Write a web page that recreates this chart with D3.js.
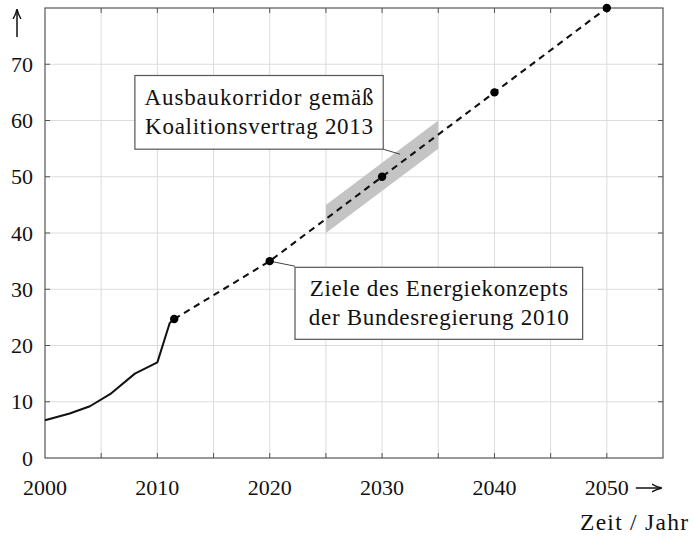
<!DOCTYPE html>
<html>
<head>
<meta charset="utf-8">
<script src="https://cdn.jsdelivr.net/npm/d3@7"></script>
<style>
  body { margin: 0; background: #fff; }
  svg text { font-family: "Liberation Serif", "DejaVu Serif", serif; fill: #111; }
</style>
</head>
<body>
<div id="chart"></div>
<script>
"use strict";

// historical share (solid line)
var histYears = [2000, 2002.2, 2004, 2005.9, 2008, 2010, 2011.1, 2011.5];
var histValues = [6.7, 7.9, 9.2, 11.5, 15.0, 17.0, 24.0, 24.7];

// targets (dashed line with dots)
var targetYears = [2011.5, 2020, 2030, 2040, 2050];
var targetValues = [24.7, 35, 50, 65, 80];

// corridor 2025-2035
var corridorYears = [2025, 2035];
var corridorLow = [40, 55];
var corridorHigh = [45, 60];

var xTickLabels = [2000, 2010, 2020, 2030, 2040, 2050];
var yTickLabels = [0, 10, 20, 30, 40, 50, 60, 70];

var W = 693, H = 536;
var margin = {left: 45, top: 8, right: 30, bottom: 78};
var innerW = W - margin.left - margin.right;
var innerH = H - margin.top - margin.bottom;

var x = d3.scaleLinear().domain([2000, 2055]).range([margin.left, margin.left + innerW]);
var y = d3.scaleLinear().domain([0, 80]).range([margin.top + innerH, margin.top]);

var svg = d3.select('#chart').append('svg')
    .attr('width', W)
    .attr('height', H);

var defs = svg.append('defs');
defs.append('marker')
    .attr('id', 'arrow')
    .attr('viewBox', '0 0 10 10')
    .attr('refX', 9).attr('refY', 5)
    .attr('markerWidth', 10).attr('markerHeight', 10)
    .attr('markerUnits', 'userSpaceOnUse')
    .attr('orient', 'auto')
    .append('path')
    .attr('d', 'M0,1 Q5,4 10,5 Q5,6 0,9')
    .attr('fill', 'none')
    .attr('stroke', '#111')
    .attr('stroke-width', 1.4);

//grid
var gridG = svg.append('g').attr('class', 'grid');
gridG.selectAll('line.vx')
    .data(d3.range(2005, 2055, 5))
    .enter().append('line')
    .attr('x1', function(d){ return x(d); })
    .attr('x2', function(d){ return x(d); })
    .attr('y1', y(0)).attr('y2', y(80))
    .attr('stroke', '#dcdcdc').attr('stroke-width', 1);
gridG.selectAll('line.hy')
    .data(d3.range(10, 80, 10))
    .enter().append('line')
    .attr('y1', function(d){ return y(d); })
    .attr('y2', function(d){ return y(d); })
    .attr('x1', x(2000)).attr('x2', x(2055))
    .attr('stroke', '#dcdcdc').attr('stroke-width', 1);

//ticks, pointing inward on all four sides
var tickG = svg.append('g').attr('stroke', '#555').attr('stroke-width', 1);
var tl = 5;
d3.range(2005, 2055, 5).forEach(function(d){
    tickG.append('line').attr('x1', x(d)).attr('x2', x(d)).attr('y1', y(0)).attr('y2', y(0) - tl);
    tickG.append('line').attr('x1', x(d)).attr('x2', x(d)).attr('y1', y(80)).attr('y2', y(80) + tl);
});
d3.range(10, 80, 10).forEach(function(d){
    tickG.append('line').attr('y1', y(d)).attr('y2', y(d)).attr('x1', x(2000)).attr('x2', x(2000) + tl);
    tickG.append('line').attr('y1', y(d)).attr('y2', y(d)).attr('x1', x(2055)).attr('x2', x(2055) - tl);
});

//frame
svg.append('rect')
    .attr('x', x(2000)).attr('y', y(80))
    .attr('width', x(2055) - x(2000)).attr('height', y(0) - y(80))
    .attr('fill', 'none').attr('stroke', '#555').attr('stroke-width', 1.2);

//corridor band
var band = corridorYears.map(function(d, i){ return {x: d, lo: corridorLow[i], hi: corridorHigh[i]}; });
svg.append('path')
    .datum(band)
    .attr('d', d3.area()
        .x(function(d){ return x(d.x); })
        .y0(function(d){ return y(d.lo); })
        .y1(function(d){ return y(d.hi); }))
    .attr('fill', '#c4c4c4');

//solid historical line
var hist = histYears.map(function(d, i){ return [d, histValues[i]]; });
var lineGen = d3.line()
    .x(function(d){ return x(d[0]); })
    .y(function(d){ return y(d[1]); });
svg.append('path')
    .datum(hist)
    .attr('d', lineGen)
    .attr('fill', 'none')
    .attr('stroke', '#111')
    .attr('stroke-width', 2)
    .attr('stroke-linejoin', 'round');

//dashed target line
var targets = targetYears.map(function(d, i){ return [d, targetValues[i]]; });
svg.append('path')
    .datum(targets)
    .attr('d', lineGen)
    .attr('fill', 'none')
    .attr('stroke', '#111')
    .attr('stroke-width', 2.1)
    .attr('stroke-dasharray', '6.5,5');

//annotation boxes (in data coordinates)
var notes = [
    {x0: 2008.0, y0: 68.0, x1: 2030.1, y1: 54.9,
     lines: ['Ausbaukorridor gemäß', 'Koalitionsvertrag 2013'], widths: [229, 228],
     from: [2030.1, 54.9], to: [2031.6, 54.0]},
    {x0: 2022.25, y0: 33.9, x1: 2047.85, y1: 21.1,
     lines: ['Ziele des Energiekonzepts', 'der Bundesregierung 2010'], widths: [258, 260],
     from: [2020, 35], to: [2022.25, 34.1]}
];

notes.forEach(function(n){
    svg.append('line')
        .attr('x1', x(n.from[0])).attr('y1', y(n.from[1]))
        .attr('x2', x(n.to[0])).attr('y2', y(n.to[1]))
        .attr('stroke', '#444').attr('stroke-width', 1);
    svg.append('rect')
        .attr('x', x(n.x0)).attr('y', y(n.y0))
        .attr('width', x(n.x1) - x(n.x0))
        .attr('height', y(n.y1) - y(n.y0))
        .attr('fill', '#fff')
        .attr('stroke', '#555')
        .attr('stroke-width', 1.2);
    var cx = (x(n.x0) + x(n.x1)) / 2;
    var top = y(n.y0);
    n.lines.forEach(function(t, i){
        svg.append('text')
            .attr('x', cx - n.widths[i] / 2)
            .attr('y', top + 29 + i * 29)
            .attr('textLength', n.widths[i])
            .attr('lengthAdjust', 'spacing')
            .style('font-size', '23px')
            .text(t);
    });
});

//dots
svg.selectAll('circle.dot')
    .data(targets)
    .enter().append('circle')
    .attr('cx', function(d){ return x(d[0]); })
    .attr('cy', function(d){ return y(d[1]); })
    .attr('r', 4.2)
    .attr('fill', '#000');

//tick labels
svg.selectAll('text.xl')
    .data(xTickLabels)
    .enter().append('text')
    .attr('x', function(d){ return x(d); })
    .attr('y', y(0) + 37)
    .attr('text-anchor', 'middle')
    .style('font-size', '22px')
    .text(function(d){ return d; });

svg.selectAll('text.yl')
    .data(yTickLabels)
    .enter().append('text')
    .attr('x', x(2000) - 12)
    .attr('y', function(d){ return y(d) + 7.5; })
    .attr('text-anchor', 'end')
    .style('font-size', '22px')
    .text(function(d){ return d; });

//axis arrows
svg.append('line')
    .attr('x1', 17).attr('y1', 37)
    .attr('x2', 17).attr('y2', 10)
    .attr('stroke', '#111').attr('stroke-width', 1.5)
    .attr('marker-end', 'url(#arrow)');
svg.append('line')
    .attr('x1', x(2050) + 29).attr('y1', y(0) + 30)
    .attr('x2', x(2050) + 54).attr('y2', y(0) + 30)
    .attr('stroke', '#111').attr('stroke-width', 1.5)
    .attr('marker-end', 'url(#arrow)');

svg.append('text')
    .attr('x', 580)
    .attr('y', 530)
    .attr('textLength', 108)
    .attr('lengthAdjust', 'spacing')
    .style('font-size', '23.5px')
    .text('Zeit / Jahr');
</script>
</body>
</html>
